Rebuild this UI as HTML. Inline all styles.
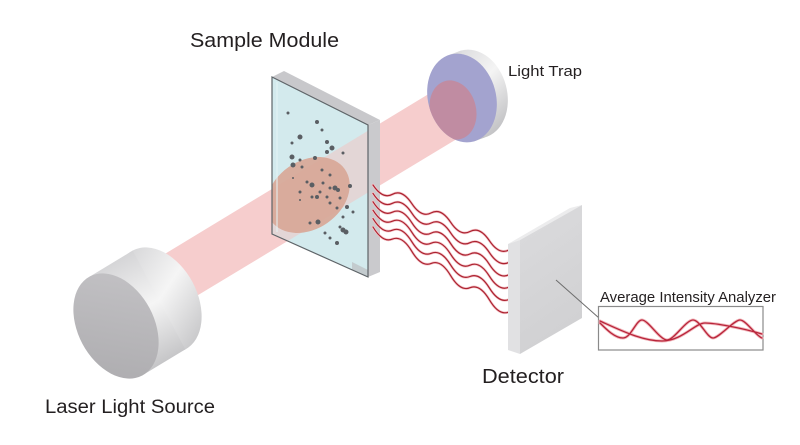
<!DOCTYPE html>
<html>
<head>
<meta charset="utf-8">
<style>
  html,body{margin:0;padding:0;background:#ffffff;}
  body{width:800px;height:445px;overflow:hidden;}
  svg{display:block;}
  text{font-family:"Liberation Sans", Arial, sans-serif;fill:#231f20;}
</style>
</head>
<body>
<svg width="800" height="445" viewBox="0 0 800 445" xmlns="http://www.w3.org/2000/svg" xmlns:xlink="http://www.w3.org/1999/xlink">
  <defs>
    <linearGradient id="bodyG" gradientUnits="userSpaceOnUse" x1="132" y1="250" x2="186" y2="350">
      <stop offset="0" stop-color="#d4d4d6"/>
      <stop offset="0.5" stop-color="#f5f5f5"/>
      <stop offset="1" stop-color="#c6c6c8"/>
    </linearGradient>
    <linearGradient id="faceG" gradientUnits="userSpaceOnUse" x1="150" y1="280" x2="80" y2="370">
      <stop offset="0" stop-color="#c2c1c4"/>
      <stop offset="1" stop-color="#aeadb0"/>
    </linearGradient>
    <linearGradient id="rimG" gradientUnits="userSpaceOnUse" x1="450" y1="50" x2="500" y2="140">
      <stop offset="0" stop-color="#d8d8da"/>
      <stop offset="0.45" stop-color="#f4f4f4"/>
      <stop offset="1" stop-color="#b8b8bb"/>
    </linearGradient>
    <linearGradient id="detG" gradientUnits="userSpaceOnUse" x1="520" y1="240" x2="582" y2="330">
      <stop offset="0" stop-color="#d9d9db"/>
      <stop offset="1" stop-color="#d0d0d2"/>
    </linearGradient>
    <clipPath id="glassClip">
      <polygon points="272,77 368,125 368,277 272,234"/>
    </clipPath>
    <clipPath id="trapClip">
      <ellipse cx="462" cy="98" rx="34" ry="45" transform="rotate(-15 462 98)"/>
    </clipPath>
    <g id="waves">
      <path d="M373,185 Q382.7,199.6 392.4,194.3 T411.8,203.6 T431.2,212.9 T450.6,222.2 T470,231.5 T489.4,240.7 T508.8,250"/>
      <path d="M373,193.4 Q382.7,208.3 392.4,203.3 T411.8,213.1 T431.2,223 T450.6,232.8 T470,242.7 T489.4,252.6 T508.8,262.4"/>
      <path d="M373,201.8 Q382.7,217 392.4,212.2 T411.8,222.7 T431.2,233.1 T450.6,243.5 T470,254 T489.4,264.4 T508.8,274.8"/>
      <path d="M373,210.2 Q382.7,225.7 392.4,221.2 T411.8,232.2 T431.2,243.2 T450.6,254.2 T470,265.2 T489.4,276.2 T508.8,287.2"/>
      <path d="M373,218.6 Q382.7,234.4 392.4,230.2 T411.8,241.7 T431.2,253.3 T450.6,264.9 T470,276.5 T489.4,288 T508.8,299.6"/>
      <path d="M373,227 Q382.7,243.1 392.4,239.1 T411.8,251.3 T431.2,263.4 T450.6,275.6 T470,287.7 T489.4,299.8 T508.8,312"/>
    </g>
    <g id="curves">
      <path d="M600,323 C607,330 615,338 623,338 S636,320 642,320 S660,340 667,340 S686,320 693,320 S707,338 713,338 S734,320 740,320 S756,336 762,338"/>
      <path d="M600,321 C620,330 642,341 662,341 S695,323 705,323 S742,328 762,334"/>
    </g>
  </defs>

  <!-- beam -->
  <polygon points="140,269 455,78 470,131 170,312" fill="#f6cdcd"/>

  <!-- sample module -->
  <polygon points="272,77 284,71 380,120 368,125" fill="#c8c8cb"/>
  <polygon points="368,125 380,120 380,272 368,277" fill="#cacacd"/>
  <polygon points="272,77 368,125 368,277 272,234" fill="#d3eaed"/>
  <g clip-path="url(#glassClip)">
    <polygon points="140,269 455,78 470,131 170,312" fill="#f0c4c2" opacity="0.55"/>
    <ellipse cx="308" cy="195" rx="45" ry="34" transform="rotate(-35 308 195)" fill="#d8a797" opacity="0.92"/>
    <rect x="276" y="82" width="2" height="150" fill="#e6f4f5" opacity="0.5"/>
    <polygon points="352,262 368,270 368,277 352,270" fill="#bfc3c5" opacity="0.8"/>
  </g>
  <polygon points="272,77 368,125 368,277 272,234" fill="none" stroke="#5e6468" stroke-width="1.2"/>

  <!-- particles -->
  <g fill="none" stroke="#5a5e63" stroke-linecap="round">
    <path stroke-width="2" d="M293 178h0M300 200h0"/>
    <path stroke-width="3" d="M288 113h0M322 130h0M292 143h0M343 153h0M300 160h0M302 167h0M322 170h0M330 175h0M307 182h0M323 183h0M330 188h0M300 192h0M320 192h0M312 197h0M327 197h0M340 198h0M337 208h0M330 203h0M343 217h0M310 223h0M340 227h0M325 233h0M330 238h0M353 212h0"/>
    <path stroke-width="4" d="M317 122h0M327 142h0M327 152h0M315 158h0M338 190h0M350 186h0M317 197h0M347 207h0M337 243h0"/>
    <path stroke-width="5" d="M300 137h0M332 148h0M292 157h0M293 165h0M312 185h0M335 188h0M318 222h0M343 230h0M346 232h0"/>
  </g>

  <!-- light trap -->
  <ellipse cx="473" cy="94" rx="34" ry="45" transform="rotate(-15 473 94)" fill="url(#rimG)"/>
  <polygon points="450.3,54.5 461.3,50.5 484.7,137.5 473.7,141.5" fill="url(#rimG)"/>
  <ellipse cx="462" cy="98" rx="34" ry="45" transform="rotate(-15 462 98)" fill="#a3a3cf"/>
  <g clip-path="url(#trapClip)">
    <ellipse cx="453" cy="110" rx="23" ry="30" transform="rotate(-15 453 110)" fill="#c08ca2"/>
  </g>

  <!-- laser -->
  <ellipse cx="159" cy="300" rx="38" ry="56" transform="rotate(-28 159 300)" fill="url(#bodyG)"/>
  <polygon points="89.7,276.6 132.7,250.6 185.3,349.4 142.3,375.4" fill="url(#bodyG)"/>
  <ellipse cx="116" cy="326" rx="38" ry="56" transform="rotate(-28 116 326)" fill="url(#faceG)"/>

  <!-- scattered waves -->
  <use xlink:href="#waves" href="#waves" fill="none" stroke="#f5c4c8" stroke-width="2.6" stroke-linecap="round"/>
  <use xlink:href="#waves" href="#waves" fill="none" stroke="#ab2230" stroke-width="1.2" stroke-linecap="round"/>

  <!-- detector -->
  <polygon points="508,244 570,208 582,205 520,240" fill="#ececed"/>
  <polygon points="508,244 520,240 520,354 508,350" fill="#e1e1e3"/>
  <polygon points="520,240 582,205 582,318 520,354" fill="url(#detG)"/>

  <!-- connector -->
  <line x1="556" y1="280" x2="599" y2="318" stroke="#6d6d6d" stroke-width="1"/>

  <!-- analyzer -->
  <rect x="598.5" y="306.5" width="164.5" height="43.5" fill="#ffffff" stroke="#8a8a8a" stroke-width="1.2"/>
  <use xlink:href="#curves" href="#curves" fill="none" stroke="#f1b6bb" stroke-width="3" stroke-linecap="round"/>
  <use xlink:href="#curves" href="#curves" fill="none" stroke="#b8243a" stroke-width="1.3" stroke-linecap="round"/>

  <!-- labels -->
  <text x="190" y="47" font-size="20" textLength="149" lengthAdjust="spacingAndGlyphs">Sample Module</text>
  <text x="508" y="76" font-size="15" textLength="74" lengthAdjust="spacingAndGlyphs">Light Trap</text>
  <text x="600" y="302" font-size="15" textLength="176" lengthAdjust="spacingAndGlyphs">Average Intensity Analyzer</text>
  <text x="482" y="383" font-size="20" textLength="82" lengthAdjust="spacingAndGlyphs">Detector</text>
  <text x="45" y="413" font-size="19" textLength="170" lengthAdjust="spacingAndGlyphs">Laser Light Source</text>
</svg>
</body>
</html>
